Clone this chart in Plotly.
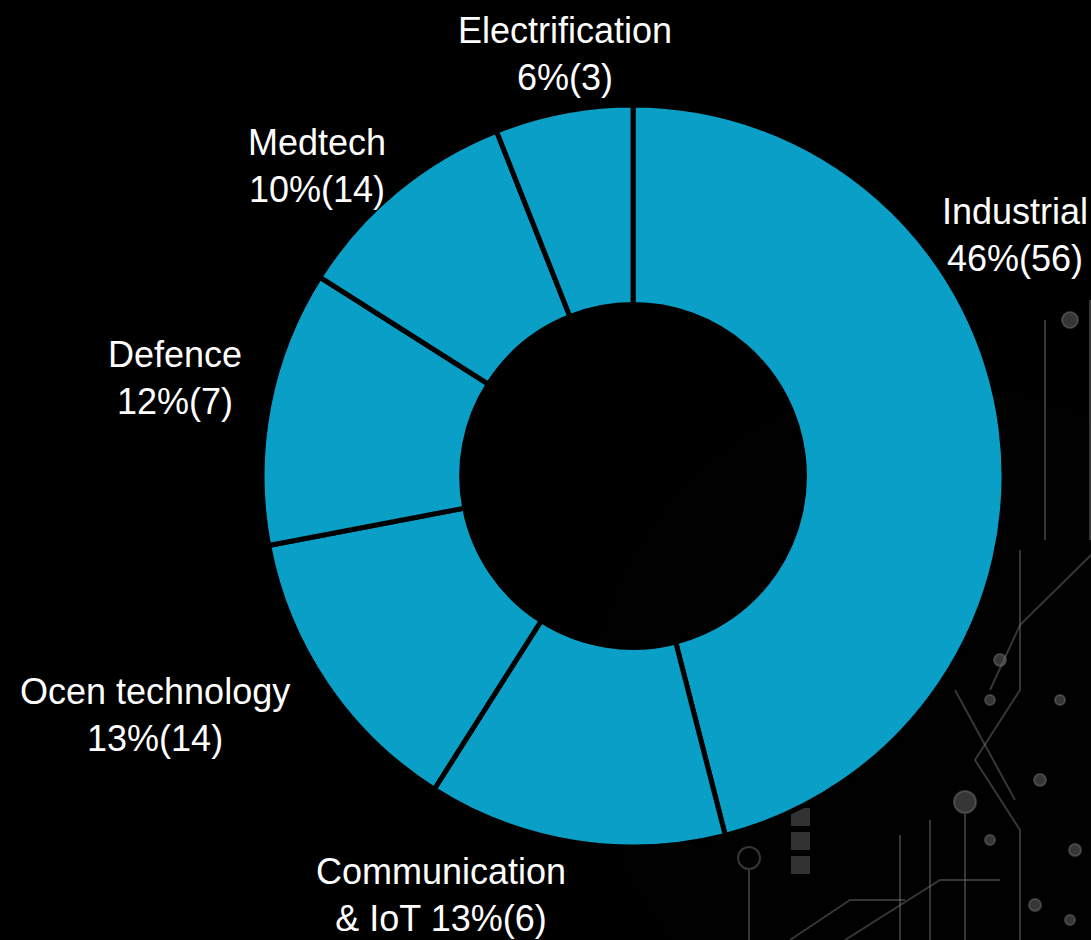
import plotly.graph_objects as go

# Portfolio split by sector: share of total (%) and number of projects
categories = ["Industrial", "Communication & IoT", "Ocen technology",
              "Defence", "Medtech", "Electrification"]
shares = [46, 13, 13, 12, 10, 6]
counts = [56, 6, 14, 7, 14, 3]

# How each category name is broken across lines in its label
label_names = ["Industrial", "Communication<br>& IoT", "Ocen technology",
               "Defence", "Medtech", "Electrification"]
label_joins = ["<br>", " ", "<br>", "<br>", "<br>", "<br>"]

# Label anchor positions (paper coordinates)
label_pos = [(0.930, 0.750), (0.404, 0.048), (0.142, 0.239),
             (0.160, 0.598), (0.291, 0.823), (0.518, 0.943)]

W, H = 1091, 940
SLICE_COLOR = "#0A9FC6"
BG = "#000000"
TRACE = "rgba(120,120,120,0.45)"
FONT = "Liberation Sans, Arial, sans-serif"


def px(x):
    return x / W


def py(y):
    return 1 - y / H


# Dim circuit-board backdrop: a soft haze with a few traces and pads
shapes = []
for r in range(340, 20, -8):
    shapes.append(dict(type="circle", xref="paper", yref="paper", layer="below",
                       x0=px(930 - r), x1=px(930 + r), y0=py(720 + r), y1=py(720 - r),
                       fillcolor="rgba(255,255,255,0.004)", line_width=0))

trace_paths = [
    [(1020, 550), (1020, 690), (975, 760), (1020, 830), (1020, 940)],
    [(1091, 555), (1020, 625), (990, 690)],
    [(965, 814), (965, 940)],
    [(955, 690), (1015, 800)],
    [(749, 870), (749, 940)],
    [(845, 940), (940, 880), (1000, 880)],
    [(790, 940), (850, 900), (905, 900)],
    [(1090, 300), (1090, 540)],
    [(1045, 320), (1045, 540)],
    [(930, 820), (930, 940)],
    [(900, 835), (900, 940)],
]
for pts in trace_paths:
    d = "M " + " L ".join(f"{px(x)},{py(y)}" for x, y in pts)
    shapes.append(dict(type="path", path=d, xref="paper", yref="paper",
                       layer="below", line=dict(color=TRACE, width=2)))

pads = [(965, 802, 11, True), (749, 858, 11, False), (1070, 320, 8, True),
        (1000, 660, 6, True), (990, 700, 5, True), (1060, 700, 5, True),
        (1040, 780, 6, True), (990, 840, 5, True), (1075, 850, 6, True),
        (1035, 905, 6, True), (1070, 920, 5, True)]
for x, y, r, filled in pads:
    shapes.append(dict(type="circle", xref="paper", yref="paper", layer="below",
                       x0=px(x - r), x1=px(x + r), y0=py(y + r), y1=py(y - r),
                       fillcolor=TRACE if filled else "rgba(0,0,0,0)",
                       line=dict(color=TRACE, width=2)))

for y in (808, 832, 856):
    shapes.append(dict(type="rect", xref="paper", yref="paper", layer="below",
                       x0=px(791), x1=px(810), y0=py(y + 18), y1=py(y),
                       fillcolor="rgba(110,110,110,0.45)", line_width=0))

fig = go.Figure(
    go.Pie(
        labels=categories,
        values=shares,
        customdata=counts,
        hole=0.462,
        sort=False,
        direction="clockwise",
        rotation=0,
        marker=dict(colors=[SLICE_COLOR] * len(categories),
                    line=dict(color=BG, width=5)),
        textinfo="none",
        hoverinfo="label+value",
        showlegend=False,
        domain=dict(x=[0.2402, 0.9203], y=[0.0989, 0.8883]),
    )
)

annotations = []
for name, join, share, count, (ax, ay) in zip(label_names, label_joins, shares,
                                               counts, label_pos):
    annotations.append(dict(
        text=f"{name}{join}{share}%({count})",
        x=ax, y=ay, xref="paper", yref="paper",
        xanchor="center", yanchor="middle",
        showarrow=False, align="center",
        font=dict(family=FONT, size=36, color="#FFFFFF"),
    ))

fig.update_layout(
    width=W, height=H,
    margin=dict(l=0, r=0, t=0, b=0),
    paper_bgcolor=BG, plot_bgcolor=BG,
    annotations=annotations,
    shapes=shapes,
)

fig.write_html("out.html")
